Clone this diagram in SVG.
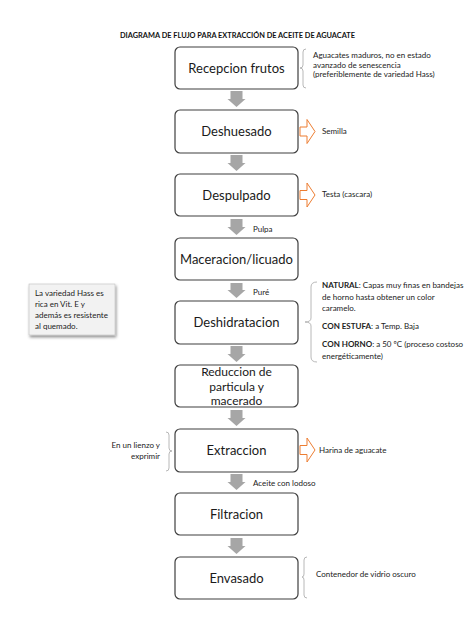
<svg xmlns="http://www.w3.org/2000/svg" width="474" height="632" viewBox="0 0 474 632">
<defs>
<style>
.box{fill:#fff;stroke:#3f3f3f;stroke-width:1.2}
.bt{font-family:Lato,"Liberation Sans",sans-serif;font-size:13px;fill:#1a1a1a;text-anchor:middle}
.bt2{font-size:12px}
.st{font-family:Lato,"Liberation Sans",sans-serif;font-size:8px;fill:#222}
.sb{font-weight:bold}
.garrow{fill:#a6a6a6}
.oarrow{fill:#fff;stroke:#ed7d31;stroke-width:1}
.brace{fill:none;stroke:#a6a6a6;stroke-width:0.8}
.title{font-family:Lato,"Liberation Sans",sans-serif;font-size:7.5px;font-weight:bold;fill:#111}
</style>
<filter id="sh" x="-20%" y="-20%" width="140%" height="140%">
<feDropShadow dx="1" dy="2" stdDeviation="1.5" flood-color="#000" flood-opacity="0.45"/>
</filter>
</defs>
<rect width="474" height="632" fill="#fff"/>
<text class="title" x="120" y="38" textLength="235" lengthAdjust="spacingAndGlyphs">DIAGRAMA DE FLUJO PARA EXTRACCIÓN DE ACEITE DE AGUACATE</text>

<g id="connectors">
<polygon class="garrow" points="230.5,91 242.5,91 242.5,99 245.5,99 236.5,107 227.5,99 230.5,99"/>
<polygon class="garrow" points="230.5,155 242.5,155 242.5,163 245.5,163 236.5,171 227.5,163 230.5,163"/>
<polygon class="garrow" points="230.5,219 242.5,219 242.5,227 245.5,227 236.5,235 227.5,227 230.5,227"/>
<polygon class="garrow" points="230.5,283 242.5,283 242.5,290 245.5,290 236.5,298 227.5,290 230.5,290"/>
<polygon class="garrow" points="230.5,346 242.5,346 242.5,354 245.5,354 236.5,362 227.5,354 230.5,354"/>
<polygon class="garrow" points="230.5,410 242.5,410 242.5,418 245.5,418 236.5,426 227.5,418 230.5,418"/>
<polygon class="garrow" points="230.5,474 242.5,474 242.5,482 245.5,482 236.5,490 227.5,482 230.5,482"/>
<polygon class="garrow" points="230.5,538 242.5,538 242.5,546 245.5,546 236.5,554 227.5,546 230.5,546"/>
<polygon class="oarrow" points="300,127 307,127 307,119.5 315,131.5 307,143.5 307,136 300,136"/>
<polygon class="oarrow" points="300,190.5 307,190.5 307,183 315,195 307,207 307,199.5 300,199.5"/>
<polygon class="oarrow" points="300,445.5 307,445.5 307,438 315,450 307,462 307,454.5 300,454.5"/>
<path class="brace" d="M306 49 Q303 49 303 52 L303 65 Q303 68 300 68 Q303 68 303 71 L303 85 Q303 88 306 88"/>
<path class="brace" d="M317 282 Q311 282 311 287 L311 318 Q311 322 305 322 Q311 322 311 326 L311 357 Q311 362 317 362"/>
<path class="brace" d="M166 432 Q169 432 169 435 L169 448 Q169 451 172 451 Q169 451 169 454 L169 468 Q169 471 166 471"/>
<path class="brace" d="M307 557 Q304 557 304 560 L304 574 Q304 577 302 577 Q304 577 304 580 L304 595 Q304 598 307 598"/>
<text class="st" x="253" y="231.5">Pulpa</text>
<text class="st" x="253" y="295">Puré</text>
<text class="st" x="253" y="486" font-size="7.5">Aceite con lodoso</text>
</g>

<g id="n1"><rect class="box" x="175" y="47" width="123" height="42" rx="5"/><text class="bt" x="236.5" y="73">Recepcion frutos</text></g>
<g id="n2"><rect class="box" x="175" y="110" width="123" height="43" rx="5"/><text class="bt" x="236.5" y="136">Deshuesado</text></g>
<g id="n3"><rect class="box" x="175" y="174" width="123" height="42" rx="5"/><text class="bt" x="236.5" y="200">Despulpado</text></g>
<g id="n4"><rect class="box" x="175" y="238" width="123" height="42" rx="5"/><text class="bt" x="236.5" y="264">Maceracion/licuado</text></g>
<g id="n5"><rect class="box" x="175" y="301" width="123" height="43" rx="5"/><text class="bt" x="236.5" y="327">Deshidratacion</text></g>
<g id="n6"><rect class="box" x="175" y="365" width="123" height="42" rx="5"/><text class="bt bt2" x="236.5" y="376">Reduccion de</text><text class="bt bt2" x="236.5" y="390.5">particula y</text><text class="bt bt2" x="236.5" y="405">macerado</text></g>
<g id="n7"><rect class="box" x="175" y="429" width="123" height="43" rx="5"/><text class="bt" x="236.5" y="455">Extraccion</text></g>
<g id="n8"><rect class="box" x="175" y="493" width="123" height="42" rx="5"/><text class="bt" x="236.5" y="519">Filtracion</text></g>
<g id="n9"><rect class="box" x="175" y="557" width="123" height="42" rx="5"/><text class="bt" x="236.5" y="583">Envasado</text></g>

<g id="note-recepcion"><text class="st" x="313" y="58">Aguacates maduros,  no en estado</text><text class="st" x="313" y="67.5">avanzado de senescencia</text><text class="st" x="313" y="77">(preferiblemente de variedad Hass)</text></g>
<g id="note-semilla"><text class="st" x="322" y="134">Semilla</text></g>
<g id="note-testa"><text class="st" x="322" y="197">Testa (cascara)</text></g>
<g id="note-deshid">
<text class="st" x="322" y="288"><tspan class="sb">NATURAL</tspan>: Capas muy finas en bandejas</text>
<text class="st" x="322" y="299.5">de horno hasta obtener un color</text>
<text class="st" x="322" y="311">caramelo.</text>
<text class="st" x="322" y="329"><tspan class="sb">CON ESTUFA</tspan>: a Temp. Baja</text>
<text class="st" x="322" y="347"><tspan class="sb">CON HORNO</tspan>: a 50 ºC (proceso costoso</text>
<text class="st" x="322" y="358.5">energéticamente)</text>
</g>
<g id="note-lienzo"><text class="st" x="160" y="448" text-anchor="end">En un lienzo y</text><text class="st" x="160" y="459" text-anchor="end">exprimir</text></g>
<g id="note-harina"><text class="st" x="319" y="453">Harina de aguacate</text></g>
<g id="note-envase"><text class="st" x="316" y="577">Contenedor de vidrio oscuro</text></g>
<g id="note-hass">
<rect x="29" y="284" width="86" height="51" fill="#f2f2f2" stroke="#bfbfbf" stroke-width="0.6" filter="url(#sh)"/>
<text class="st" x="35" y="296">La variedad Hass es</text>
<text class="st" x="35" y="307">rica en Vit. E y</text>
<text class="st" x="35" y="318">además es resistente</text>
<text class="st" x="35" y="329">al quemado.</text>
</g>
</svg>
